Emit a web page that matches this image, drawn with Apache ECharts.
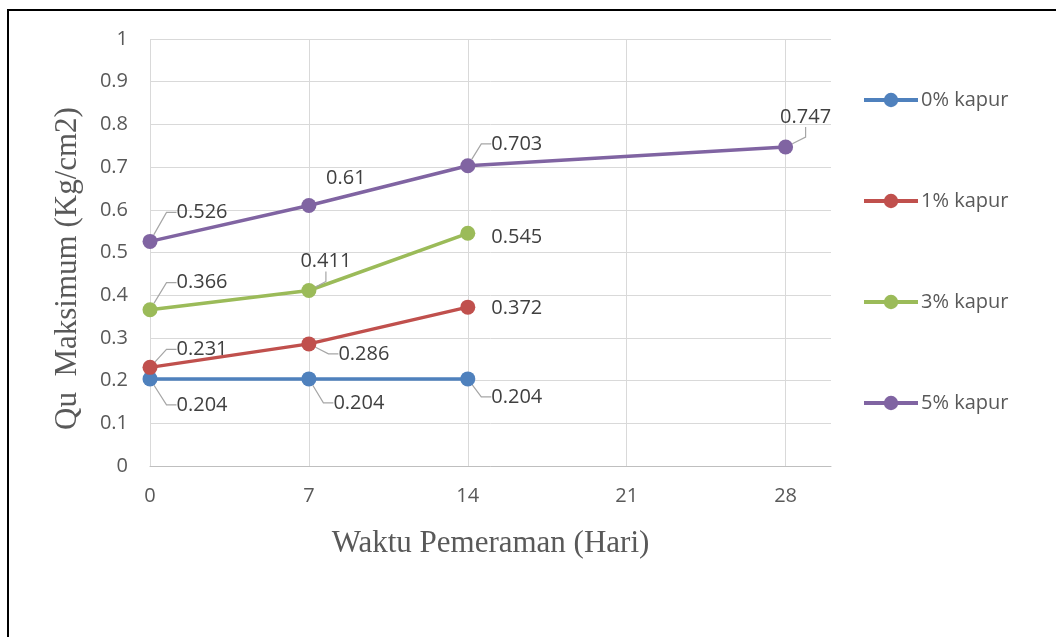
<!DOCTYPE html>
<html>
<head>
<meta charset="utf-8">
<script src="https://cdn.jsdelivr.net/npm/echarts@6/dist/echarts.min.js"></script>
<style>
  html, body { margin: 0; padding: 0; background: #ffffff; }
  #chart { width: 1056px; height: 637px; }
</style>
</head>
<body>
<div id="chart"></div>
<script>
// Curing time (days) and unconfined strength per lime content
const days = [0, 7, 14, 28];
const seriesNames = ['0% kapur', '1% kapur', '3% kapur', '5% kapur'];
const kapur0 = [0.204, 0.204, 0.204];
const kapur1 = [0.231, 0.286, 0.372];
const kapur3 = [0.366, 0.411, 0.545];
const kapur5 = [0.526, 0.61, 0.703, 0.747];
const xTicks = [0, 7, 14, 21, 28];

const colors = ['#4f81bd', '#c0504d', '#9bbb59', '#8064a2'];

// Label placement around each marker: [dx, dy, leader line]
const labelPlacement = [
  [[52, 26, true], [50, 24, true], [49, 18, true]],
  [[52, -18, true], [55, 10, true], [49, 1, false]],
  [[52, -27, true], [17, -29, true], [49, 4, false]],
  [[52, -29, true], [37, -27, false], [49, -22, true], [20, -30, true]]
];

const valueSets = [kapur0, kapur1, kapur3, kapur5];

function buildSeries(idx) {
  const vals = valueSets[idx];
  return {
    name: seriesNames[idx],
    type: 'line',
    data: vals.map((v, i) => ({
      value: [days[i], v],
      labelLine: { show: labelPlacement[idx][i][2] }
    })),
    symbol: 'circle',
    symbolSize: 15,
    lineStyle: { width: 3.5, color: colors[idx] },
    itemStyle: { color: colors[idx] },
    label: {
      show: true,
      position: 'inside',
      formatter: p => String(p.value[1]),
      fontFamily: 'Open Sans',
      fontSize: 20,
      color: '#404040'
    },
    labelLine: {
      show: true,
      length2: 10,
      lineStyle: { color: '#a6a6a6', width: 1.2 }
    },
    labelLayout: p => {
      const pl = labelPlacement[idx][p.dataIndex];
      return { dx: pl[0], dy: pl[1] };
    },
    emphasis: { disabled: true },
    z: 3 + idx
  };
}

const chart = echarts.init(document.getElementById('chart'), null, { renderer: 'canvas' });

chart.setOption({
  backgroundColor: '#ffffff',
  animation: false,
  grid: { left: 150, right: 225, top: 39, bottom: 171, containLabel: false },
  xAxis: {
    type: 'value',
    min: 0,
    max: 30,
    interval: 7,
    name: 'Waktu Pemeraman (Hari)',
    nameLocation: 'middle',
    nameGap: 62,
    nameTextStyle: { fontFamily: 'Liberation Serif', fontSize: 31, color: '#595959' },
    axisLine: { show: true, lineStyle: { color: '#bfbfbf', width: 1 } },
    axisTick: { show: false },
    axisLabel: {
      margin: 20,
      fontFamily: 'Open Sans',
      fontSize: 20,
      color: '#595959',
      showMaxLabel: false,
      formatter: v => (xTicks.indexOf(v) >= 0 ? String(v) : '')
    },
    splitLine: { show: true, showMaxLine: false, lineStyle: { color: '#d9d9d9', width: 1 } }
  },
  yAxis: {
    type: 'value',
    min: 0,
    max: 1,
    interval: 0.1,
    name: 'Qu  Maksimum (Kg/cm2)',
    nameLocation: 'middle',
    nameGap: 67,
    nameTextStyle: {
      fontFamily: 'Liberation Serif',
      fontSize: 31,
      color: '#595959',
      padding: [0, 32, 0, 0]
    },
    axisLine: { show: false },
    axisTick: { show: false },
    axisLabel: { margin: 22, fontFamily: 'Open Sans', fontSize: 20, color: '#595959' },
    splitLine: { show: true, lineStyle: { color: '#d9d9d9', width: 1 } }
  },
  legend: {
    orient: 'vertical',
    left: 862,
    top: 90,
    padding: 0,
    itemGap: 81,
    itemWidth: 54,
    itemHeight: 18,
    lineStyle: { width: 4 },
    textStyle: { fontFamily: 'Open Sans', fontSize: 20, color: '#595959', padding: [0, 0, 0, -2] },
    data: seriesNames
  },
  graphic: [
    {
      type: 'rect',
      silent: true,
      shape: { x: 8, y: 10, width: 1100, height: 700 },
      style: { fill: 'none', stroke: '#000000', lineWidth: 2 }
    }
  ],
  series: [0, 1, 2, 3].map(buildSeries)
});
</script>
</body>
</html>
